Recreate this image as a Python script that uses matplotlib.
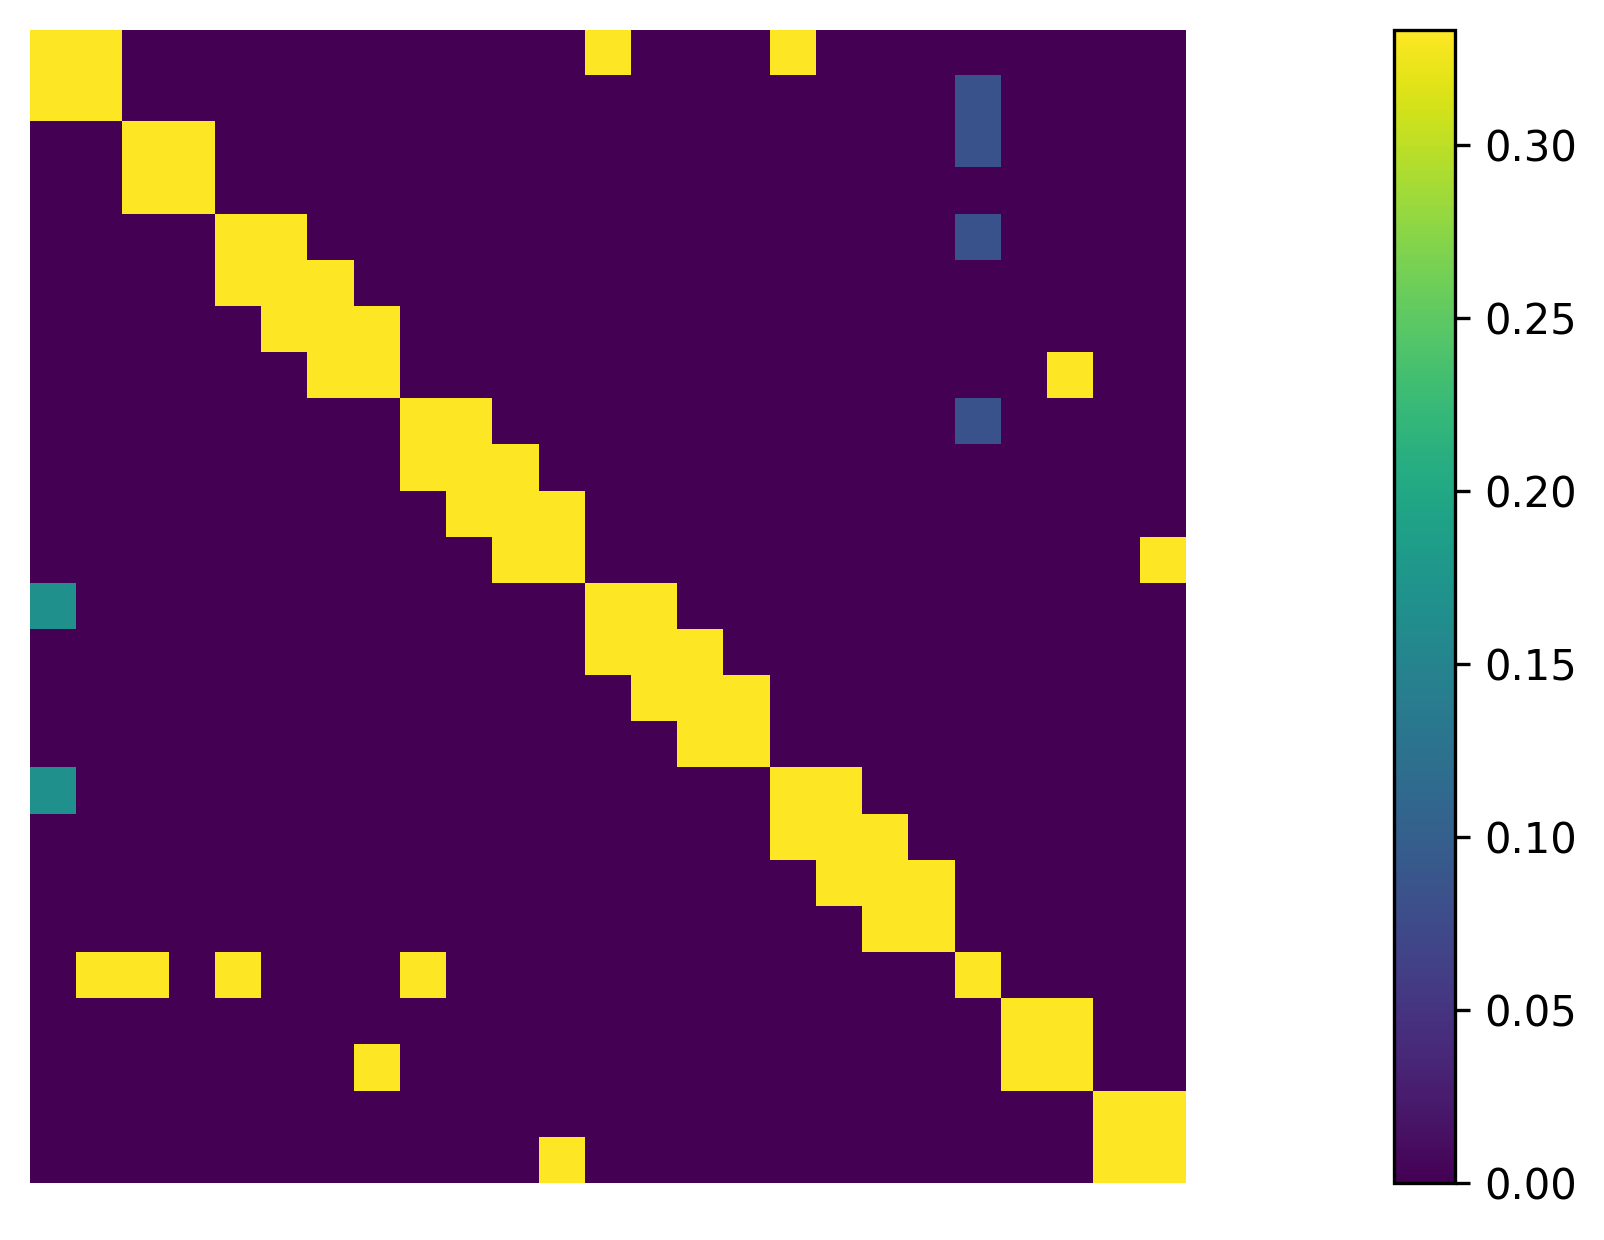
import numpy as np
import matplotlib
matplotlib.use("Agg")
import matplotlib.pyplot as plt

# 25 x 25 matrix
n = 25

# value levels seen in the picture
high = 1 / 3
mid = 1 / 6
low = 1 / 12

# columns with the high value, one list per row
high_cols = [
    [0, 1, 12, 16],
    [0, 1],
    [2, 3],
    [2, 3],
    [4, 5],
    [4, 5, 6],
    [5, 6, 7],
    [6, 7, 22],
    [8, 9],
    [8, 9, 10],
    [9, 10, 11],
    [10, 11, 24],
    [12, 13],
    [12, 13, 14],
    [13, 14, 15],
    [14, 15],
    [16, 17],
    [16, 17, 18],
    [17, 18, 19],
    [18, 19],
    [1, 2, 4, 8, 20],
    [21, 22],
    [7, 21, 22],
    [23, 24],
    [11, 23, 24],
]

# (row, col) cells with the smaller values
mid_cells = [(12, 0), (16, 0)]
low_cells = [(1, 20), (2, 20), (4, 20), (8, 20)]

mat = np.zeros((n, n))
for r, cols in enumerate(high_cols):
    mat[r, cols] = high
for r, c in mid_cells:
    mat[r, c] = mid
for r, c in low_cells:
    mat[r, c] = low

fig = plt.figure(figsize=(1604 / 300, 1240 / 300), dpi=300)
ax = fig.add_axes([30 / 1604, 57 / 1240, 1156 / 1604, 1153 / 1240])
cax = fig.add_axes([1394 / 1604, 57 / 1240, 61 / 1604, 1153 / 1240])

im = ax.imshow(mat, cmap="viridis", vmin=0, vmax=high, aspect="auto",
               interpolation="nearest")
ax.axis("off")

cb = fig.colorbar(im, cax=cax)
cb.set_ticks([0.0, 0.05, 0.10, 0.15, 0.20, 0.25, 0.30])
cb.ax.set_yticklabels(["0.00", "0.05", "0.10", "0.15", "0.20", "0.25", "0.30"])

fig.savefig("out.png", dpi=300)
